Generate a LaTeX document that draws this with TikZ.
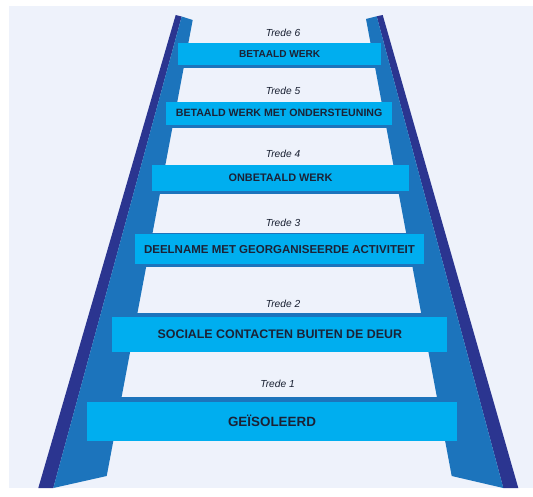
\documentclass[tikz,border=0pt]{standalone}
\usepackage{fontspec}
\setmainfont{Liberation Sans}
\definecolor{canvas}{HTML}{EEF2FB}
\definecolor{railouter}{HTML}{2B3590}
\definecolor{railinner}{HTML}{1C74BC}
\definecolor{rung}{HTML}{00AEEF}
\definecolor{ink}{HTML}{1B2236}
\tikzset{
  rungbox/.style={fill=rung, draw=none, inner sep=0pt, text=ink,
    font=\bfseries},
  rungface/.style={fill=railinner, draw=none},
  tredelabel/.style={inner sep=0pt, text=ink!90!black,
    font=\itshape\fontsize{10.2}{12}\selectfont},
}
\newcommand{\fsz}[1]{\fontsize{#1}{#1}\selectfont}
\begin{document}
\begin{tikzpicture}[x=1pt,y=-1pt]
  \useasboundingbox (0,0) rectangle (533,497);
  % backdrop
  \fill[canvas] (9,6) rectangle (533,488);

  % depth faces of the rungs (visible above or below each rung)
  \fill[rungface] (170,65) rectangle (390,68.3);
  \fill[rungface] (160,124) rectangle (400,128.3);
  \fill[rungface] (145,190) rectangle (415,194);
  \fill[rungface] (130,232.8) rectangle (430,267.3);
  \fill[rungface] (105,313.3) rectangle (455,318);
  \fill[rungface] (80,396.7) rectangle (465,403);

  % left rail
  \fill[railouter] (38.3,488) -- (175.7,15) -- (181.7,16.5) -- (53.3,488) -- cycle;
  \fill[railinner] (53.3,488) -- (181.7,16.5) -- (192.7,20) -- (106.7,476) -- cycle;
  % right rail
  \fill[railouter] (518.3,488) -- (382.7,15) -- (376.7,16.3) -- (503.3,488) -- cycle;
  \fill[railinner] (503.3,488) -- (376.7,16.3) -- (366,19) -- (451.7,476) -- cycle;

  % rungs
  \node[rungbox, minimum width=202.7, minimum height=21.7, font=\bfseries\fsz{10.1}]
    (r6) at (279.65,54.15) {BETAALD WERK};
  \node[rungbox, minimum width=226.3, minimum height=23.3, font=\bfseries\fsz{10.6}]
    (r5) at (279.15,113.35) {BETAALD WERK MET ONDERSTEUNING};
  \node[rungbox, minimum width=257.6, minimum height=25.7, font=\bfseries\fsz{10.9}]
    (r4) at (280.5,177.85) {ONBETAALD WERK};
  \node[rungbox, minimum width=289, minimum height=29.7, font=\bfseries\fsz{11.5}]
    (r3) at (279.5,249.15) {DEELNAME MET GEORGANISEERDE ACTIVITEIT};
  \node[rungbox, minimum width=335, minimum height=35, font=\bfseries\fsz{12.4}]
    (r2) at (279.8,334.2) {SOCIALE CONTACTEN BUITEN DE DEUR};
  \node[rungbox, minimum width=370, minimum height=39, font=\bfseries\fsz{13.4}]
    (r1) at (272,421.2) {GEÏSOLEERD};

  % step captions
  \node[tredelabel] (t6) at (283,33.3) {Trede 6};
  \node[tredelabel] (t5) at (283,90.7) {Trede 5};
  \node[tredelabel] (t4) at (283,154) {Trede 4};
  \node[tredelabel] (t3) at (283,223.3) {Trede 3};
  \node[tredelabel] (t2) at (283,304) {Trede 2};
  \node[tredelabel] (t1) at (277.5,384) {Trede 1};
\end{tikzpicture}
\end{document}
